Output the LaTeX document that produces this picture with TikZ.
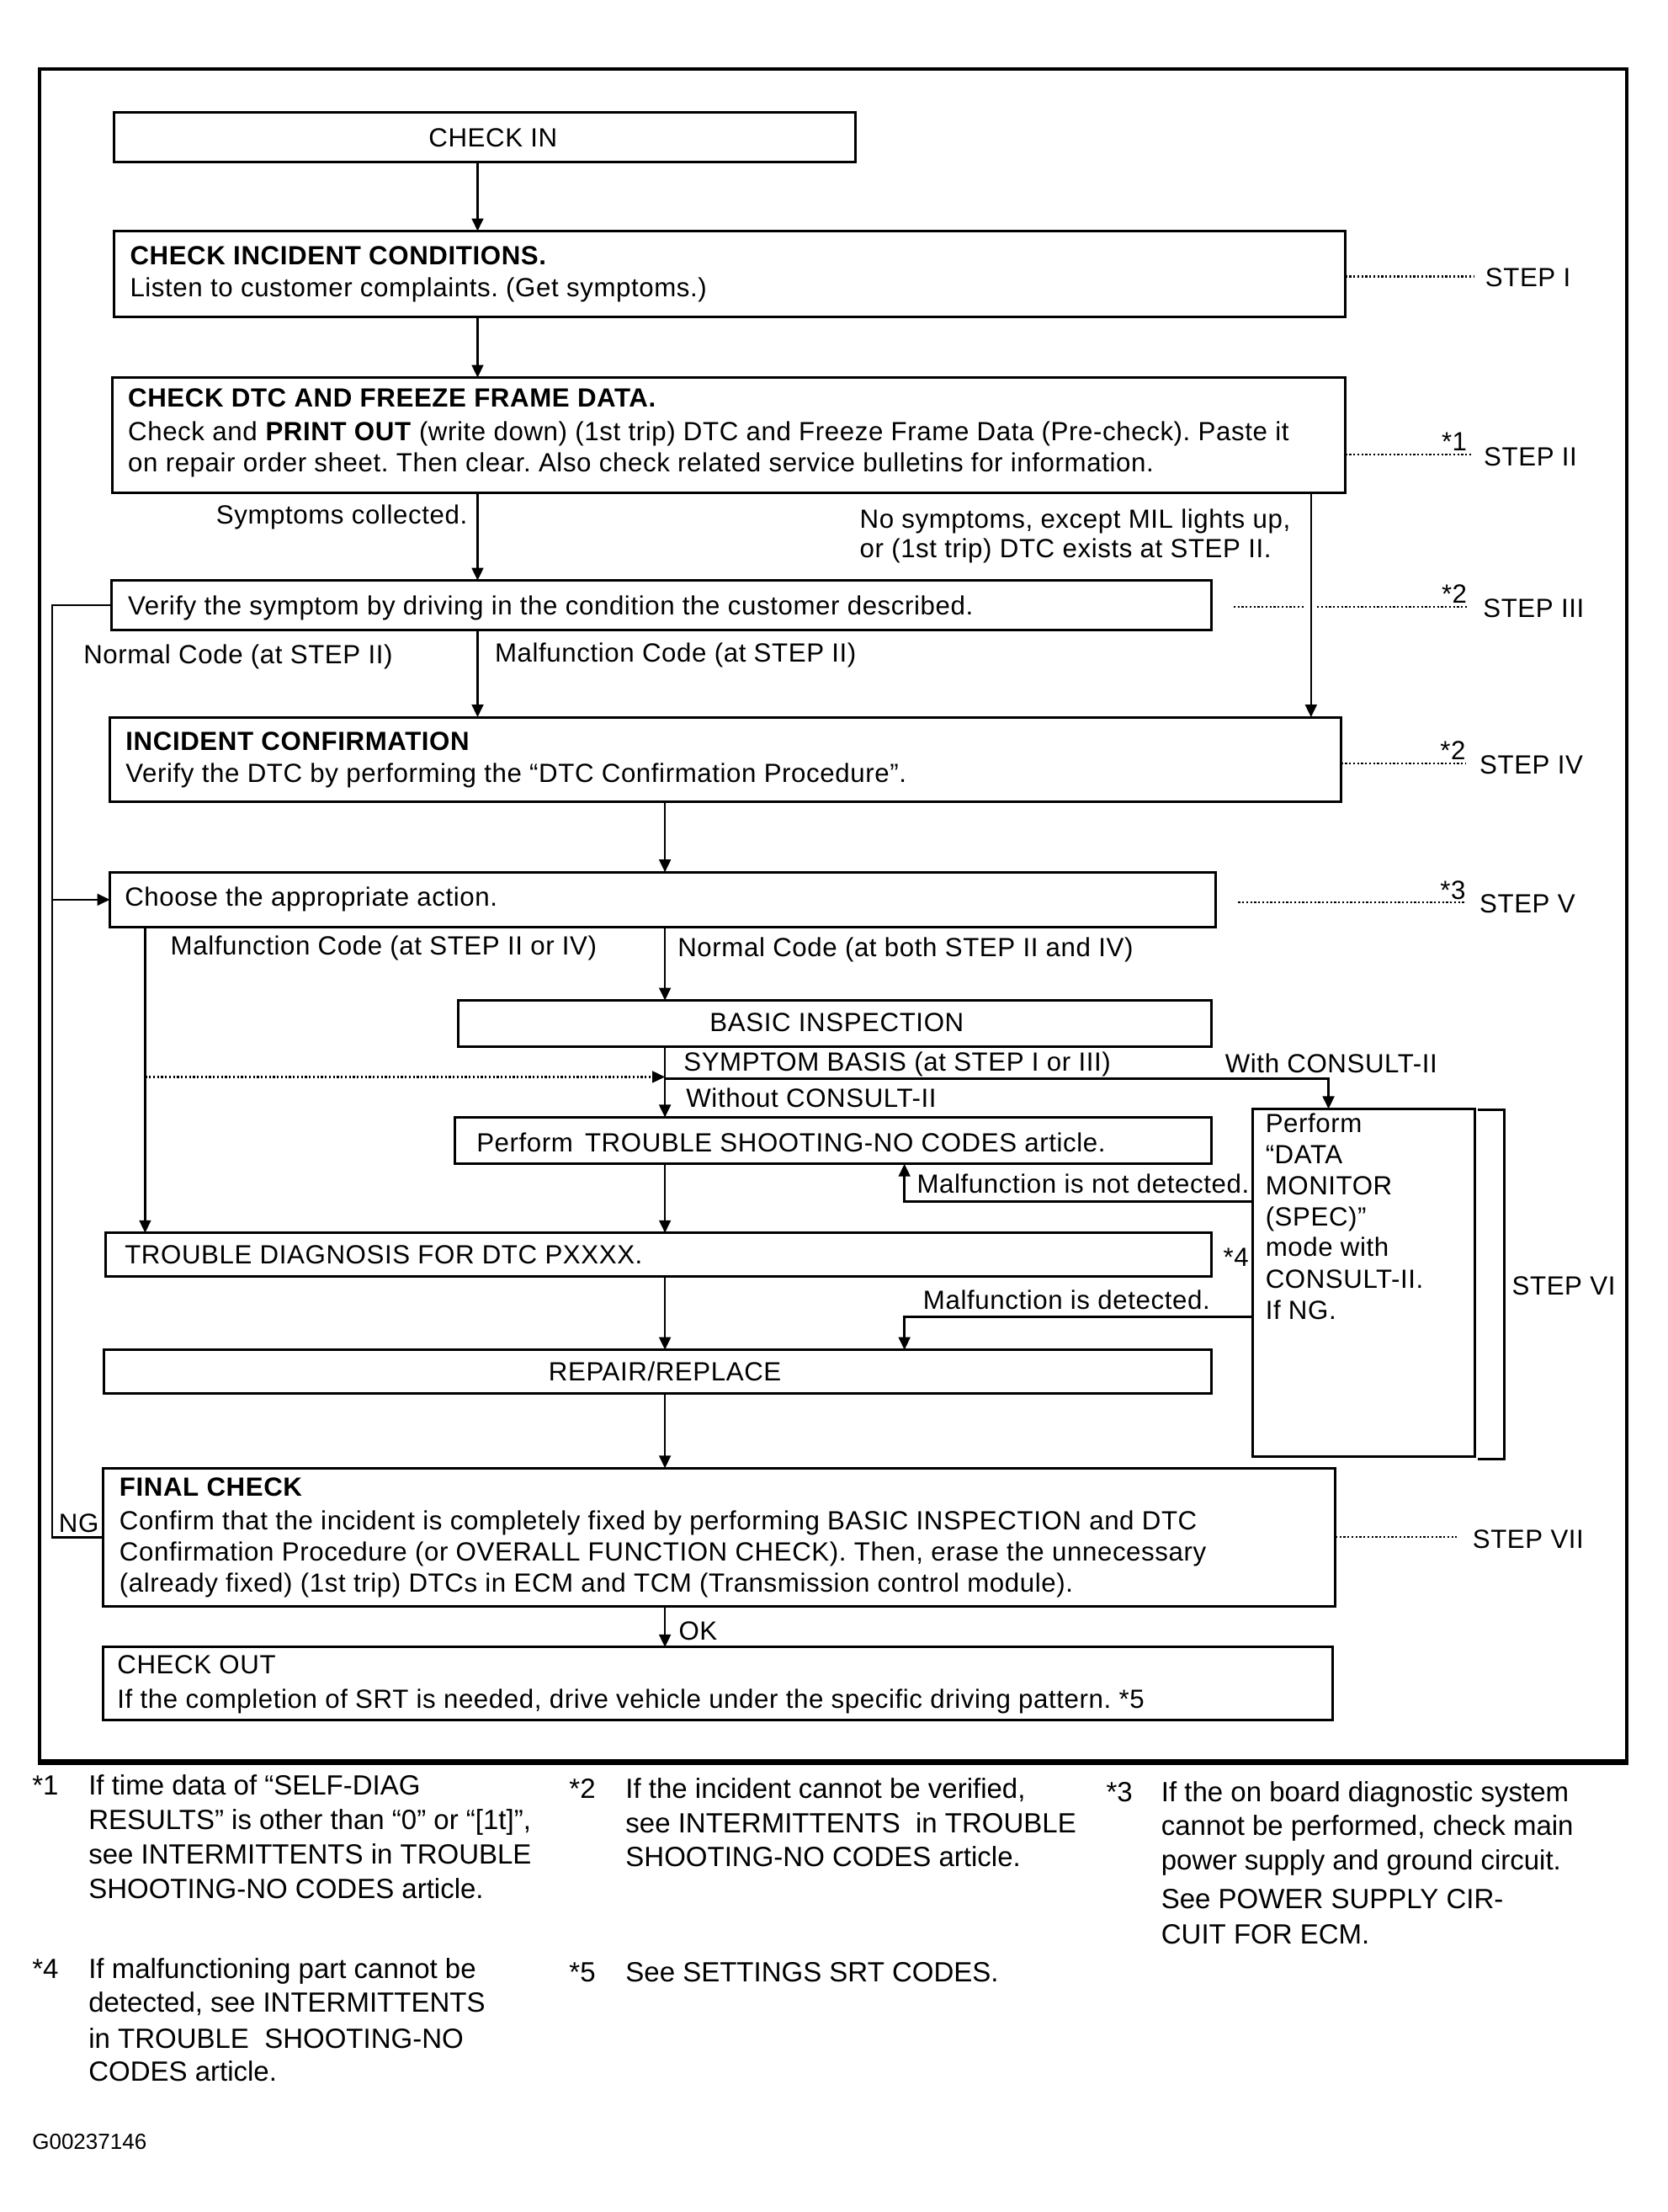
\documentclass[tikz,border=0pt]{standalone}
\usepackage{fontspec}
\setmainfont{Liberation Sans}[LetterSpace=1.9]
\newfontfamily\fnfam{Liberation Sans}
\usetikzlibrary{arrows.meta}
\newcommand\fs{\fontsize{12.5}{14.7}\selectfont}
\newcommand\fn{\fnfam\fontsize{13.2}{16.5}\selectfont}
\newcommand\fsm{\fnfam\fontsize{10.4}{12}\selectfont}
\newcommand\mybox[5]{\node[box, minimum width={(#4-#2)*0.6696pt}, minimum height={(#5-#3)*0.6696pt}] (#1) at (#2,#3) {};}
\newcommand\tl[4]{\node[txt] (#1) at (#2,#3) {#4};}
\newcommand\fl[4]{\node[ftxt] (#1) at (#2,#3) {#4};}
\frenchspacing
\begin{document}
\begin{tikzpicture}[x=0.6696pt, y=-0.6696pt,
 box/.style={draw, line width=1.2pt, rectangle, inner sep=0pt, outer sep=0pt, anchor=north west},
 txt/.style={anchor=base west, inner sep=0pt, font=\fs},
 ftxt/.style={anchor=base west, inner sep=0pt, font=\fn},
 arr/.style={line width=1pt, -{Triangle[width=5.5pt,length=6pt]}},
 ln/.style={line width=1pt},
 dots/.style={line width=0.9pt, densely dotted}]
\useasboundingbox (0,0) rectangle (1183.4,1569.9);
% outer frame
\node[draw, line width=1.6pt, rectangle, inner sep=0pt, anchor=north west,
  minimum width={(1153.5-26.6)*0.6696pt}, minimum height={(1248.5-48)*0.6696pt}] (frame) at (26.6,48) {};
\draw[line width=2.6pt] (frame.south west) -- (frame.south east);

% boxes
\mybox{checkin}{81}{80}{607}{115}
\mybox{incident}{81}{164}{955}{225}
\mybox{dtc}{80}{268}{955}{350}
\mybox{verify}{79}{412}{860}{447}
\mybox{ic}{78}{509}{952}{569}
\mybox{choose}{78}{619}{863}{658}
\mybox{basic}{325}{710}{860}{743}
\mybox{perform}{323}{793}{860}{826}
\mybox{datamon}{889}{787}{1047}{1034}
\mybox{td}{75}{875}{860}{906}
\mybox{repair}{74}{958}{860}{989}
\mybox{final}{73}{1042}{948}{1140}
\mybox{checkout}{73}{1169}{946}{1221}

% column coordinates
\coordinate (cA) at (339,0);
\coordinate (cR) at (930.6,0);
\coordinate (cM) at (472,0);
\coordinate (cL) at (103,0);
\coordinate (cW) at (943,0);
\coordinate (cN) at (642,0);
\coordinate (ngX) at (37,0);
\coordinate (yDot) at (0,764.3);
\coordinate (yWith) at (0,765.6);
\coordinate (yND) at (0,852.8);
\coordinate (yD) at (0,934.5);

% texts in boxes
\node[txt, anchor=base] (tcheckin) at (350,104) {CHECK IN};
\tl{tinc1}{92}{188}{\textbf{CHECK INCIDENT CONDITIONS.}}
\tl{tinc2}{92}{210.7}{Listen to customer complaints. (Get symptoms.)}
\tl{tdtc1}{90.6}{289}{\textbf{CHECK DTC AND FREEZE FRAME DATA.}}
\tl{tdtc2}{90.6}{313}{Check and \textbf{PRINT OUT} (write down) (1st trip) DTC and Freeze Frame Data (Pre-check). Paste it}
\tl{tdtc3}{90.6}{334.7}{on repair order sheet. Then clear. Also check related service bulletins for information.}
\node[txt, anchor=base east] (tsym) at (332,372) {Symptoms collected.};
\tl{tnos1}{610}{374.7}{No symptoms, except MIL lights up,}
\tl{tnos2}{610}{396}{or (1st trip) DTC exists at STEP II.}
\tl{tver}{90.6}{436.3}{Verify the symptom by driving in the condition the customer described.}
\tl{tnc}{59}{471}{Normal Code (at STEP II)}
\tl{tmc}{351}{469.6}{Malfunction Code (at STEP II)}
\tl{tic1}{89}{532.3}{\textbf{INCIDENT CONFIRMATION}}
\tl{tic2}{89}{555}{Verify the DTC by performing the “DTC Confirmation Procedure”.}
\tl{tcho}{88.3}{643}{Choose the appropriate action.}
\tl{tmc2}{120.8}{677.6}{Malfunction Code (at STEP II or IV)}
\tl{tnc2}{480.8}{679}{Normal Code (at both STEP II and IV)}
\node[txt, anchor=base] (tbasic) at (594,732.3) {BASIC INSPECTION};
\tl{tsb}{485}{760.3}{SYMPTOM BASIS (at STEP I or III)}
\tl{twith}{869.4}{761.6}{With CONSULT-II}
\tl{two}{486.8}{785.6}{Without CONSULT-II}
\tl{tperf}{338}{817.7}{Perform\hspace{0.45em}TROUBLE SHOOTING-NO CODES article.}
\tl{tnd}{650.6}{846.7}{Malfunction is not detected.}
\tl{tdm1}{898}{803.6}{Perform}
\tl{tdm2}{898}{825.8}{“DATA}
\tl{tdm3}{898}{847.7}{MONITOR}
\tl{tdm4}{898}{869.9}{(SPEC)”}
\tl{tdm5}{898}{891.6}{mode with}
\tl{tdm6}{898}{914.5}{CONSULT-II.}
\tl{tdm7}{898}{936.2}{If NG.}
\tl{ttd}{88.3}{897}{TROUBLE DIAGNOSIS FOR DTC PXXXX.}
\tl{tst4}{868}{898.5}{*4}
\tl{tdet}{655}{929}{Malfunction is detected.}
\node[txt, anchor=base] (trep) at (472,980) {REPAIR/REPLACE};
\tl{tfin1}{84.5}{1062}{\textbf{FINAL CHECK}}
\tl{tfin2}{84.5}{1085.5}{Confirm that the incident is completely fixed by performing BASIC INSPECTION and DTC}
\tl{tfin3}{84.5}{1108}{Confirmation Procedure (or OVERALL FUNCTION CHECK). Then, erase the unnecessary}
\tl{tfin4}{84.5}{1130}{(already fixed) (1st trip) DTCs in ECM and TCM (Transmission control module).}
\tl{tng}{41.5}{1087.5}{NG}
\tl{tok}{481.5}{1163.7}{OK}
\tl{tco1}{83}{1188}{CHECK OUT}
\tl{tco2}{83}{1212.4}{If the completion of SRT is needed, drive vehicle under the specific driving pattern. *5}

% step labels
\tl{s1}{1054}{203.2}{STEP I}
\tl{s2}{1053}{330.4}{STEP II}
\tl{s3}{1052.5}{438}{STEP III}
\tl{s4}{1050}{549.3}{STEP IV}
\tl{s5}{1050}{648}{STEP V}
\tl{s6}{1073}{919}{STEP VI}
\tl{s7}{1045}{1099}{STEP VII}
\tl{a1}{1023}{320}{*1}
\tl{a2}{1023}{428}{*2}
\tl{a3}{1022}{539}{*2}
\tl{a4}{1022}{638}{*3}

% dotted step leaders
\coordinate (e1) at (1046,196.3);
\coordinate (e2) at (1045,322.6);
\coordinate (e3a) at (875.6,430.6);
\coordinate (e3b) at (926,430.6);
\coordinate (e3c) at (935,430.6);
\coordinate (e3d) at (1041.5,430.6);
\coordinate (e4) at (1040,541.8);
\coordinate (e5a) at (879,640.4);
\coordinate (e5b) at (1040,640.4);
\coordinate (e7) at (1034,1091);
\draw[dots] (incident.east |- e1) -- (e1);
\draw[dots] (dtc.east |- e2) -- (e2);
\draw[dots] (e3a) -- (e3b);
\draw[dots] (e3c) -- (e3d);
\draw[dots] (ic.east |- e4) -- (e4);
\draw[dots] (e5a) -- (e5b);
\draw[dots] (final.east |- e7) -- (e7);

% STEP VI bracket
\draw[line width=1.2pt] (1049,787.9) -- (1068,787.9) -- (1068,1035.7) -- (1049,1035.7);

% connectors
\draw[arr] (checkin.south -| cA) -- (incident.north -| cA);
\draw[arr] (incident.south -| cA) -- (dtc.north -| cA);
\draw[arr] (dtc.south -| cA) -- (verify.north -| cA);
\draw[arr] (dtc.south -| cR) -- (ic.north -| cR);
\draw[arr] (verify.south -| cA) -- (ic.north -| cA);
\draw[arr] (ic.south -| cM) -- (choose.north -| cM);
\draw[arr] (choose.south -| cM) -- (basic.north -| cM);
\draw[arr] (choose.south -| cL) -- (td.north -| cL);
\draw[arr] (basic.south -| cM) -- (perform.north -| cM);
\draw[dots, -{Triangle[width=5.5pt,length=6pt]}] (cL |- yDot) -- (cM |- yDot);
\draw[arr] (cM |- yWith) -| (datamon.north -| cW);
\draw[arr] (datamon.west |- yND) -| (perform.south -| cN);
\draw[arr] (perform.south -| cM) -- (td.north -| cM);
\draw[arr] (td.south -| cM) -- (repair.north -| cM);
\draw[arr] (datamon.west |- yD) -| (repair.north -| cN);
\draw[arr] (repair.south -| cM) -- (final.north -| cM);
\draw[arr] (final.south -| cM) -- (checkout.north -| cM);
\draw[ln] (final.west) -- (ngX |- final.west) -- (ngX |- verify.west) -- (verify.west);
\draw[arr] (ngX |- choose.west) -- (choose.west);

% footnotes
\fl{f1m}{22.6}{1274}{*1}
\fl{f1a}{62.6}{1274}{If time data of “SELF-DIAG}
\fl{f1b}{62.6}{1298.4}{RESULTS” is other than “0” or “[1t]”,}
\fl{f1c}{62.6}{1323}{see INTERMITTENTS in TROUBLE}
\fl{f1d}{62.6}{1347.5}{SHOOTING-NO CODES article.}
\fl{f2m}{403.8}{1276.4}{*2}
\fl{f2a}{443.8}{1276.4}{If the incident cannot be verified,}
\fl{f2b}{443.8}{1300.6}{see INTERMITTENTS\ \ in TROUBLE}
\fl{f2c}{443.8}{1324.8}{SHOOTING-NO CODES article.}
\fl{f3m}{785}{1278.6}{*3}
\fl{f3a}{824}{1278.6}{If the on board diagnostic system}
\fl{f3b}{824}{1302.8}{cannot be performed, check main}
\fl{f3c}{824}{1327}{power supply and ground circuit.}
\fl{f3d}{824}{1354.5}{See POWER SUPPLY CIR-}
\fl{f3e}{824}{1379.9}{CUIT FOR ECM.}
\fl{f4m}{22.6}{1404}{*4}
\fl{f4a}{62.6}{1404}{If malfunctioning part cannot be}
\fl{f4b}{62.6}{1428.3}{detected, see INTERMITTENTS}
\fl{f4c}{62.6}{1453.6}{in TROUBLE\ \ SHOOTING-NO}
\fl{f4d}{62.6}{1476.7}{CODES article.}
\fl{f5m}{403.8}{1406.3}{*5}
\fl{f5a}{443.8}{1406.3}{See SETTINGS SRT CODES.}
\node[anchor=base west, inner sep=0pt, font=\fsm] (gid) at (22.6,1525.2) {G00237146};
\end{tikzpicture}
\end{document}
